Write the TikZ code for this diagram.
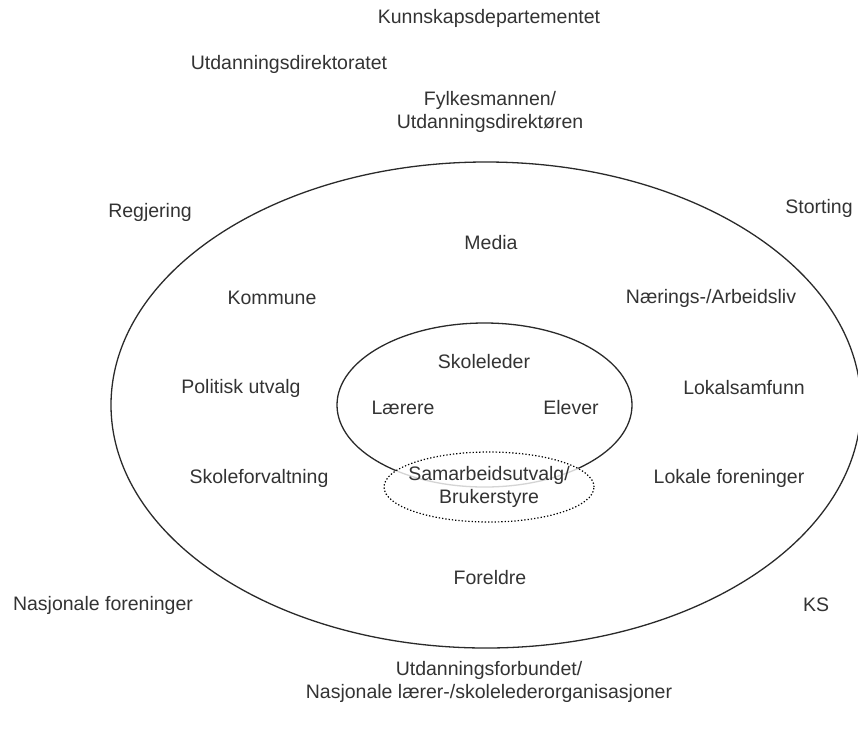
\documentclass[tikz,border=0pt]{standalone}
\usepackage{fontspec}
\setmainfont{Liberation Sans}
\usetikzlibrary{shapes.geometric}
\definecolor{lineColor}{HTML}{2A2A2A}
\definecolor{txtColor}{HTML}{333333}
\tikzset{
	lbl/.style={text=txtColor, inner sep=0, outer sep=0, align=center, font=\fontsize{19.5}{23.5}\selectfont},
	ring/.style={draw=lineColor, line width=1.3pt, ellipse, inner sep=0, outer sep=0}
}

\begin{document}
\begin{tikzpicture}[x=1pt, y=-1pt]
	\useasboundingbox (0,0) rectangle (858,729);
	% circles
	\node[ring, minimum width=750pt, minimum height=486pt] (outer) at (486, 405) {};
	\node[ring, minimum width=295pt, minimum height=164pt] (inner) at (484.5, 405) {};
	\node[ring, draw=black, dotted, line width=1.2pt, fill=white, fill opacity=0.8, text opacity=1, minimum width=210pt, minimum height=70pt] (su) at (489, 487) {};
	% outside
	\node[lbl] (kd) at (489, 18) {Kunnskapsdepartementet};
	\node[lbl] (udir) at (289, 64) {Utdanningsdirektoratet};
	\node[lbl] (fm) at (490, 112) {Fylkesmannen/\\Utdanningsdirektøren};
	\node[lbl] (regj) at (150, 212) {Regjering};
	\node[lbl] (sto) at (819, 208) {Storting};
	\node[lbl] (nf) at (103, 605) {Nasjonale foreninger};
	\node[lbl] (ks) at (816, 605) {KS};
	\node[lbl] (udf) at (489, 682) {Utdanningsforbundet/\\Nasjonale lærer-/skolelederorganisasjoner};
	% outer ring
	\node[lbl] (media) at (491, 243) {Media};
	\node[lbl] (komm) at (272, 298) {Kommune};
	\node[lbl] (naer) at (711, 298) {Nærings-/Arbeidsliv};
	\node[lbl] (pol) at (241, 388) {Politisk utvalg};
	\node[lbl] (lok) at (744, 388) {Lokalsamfunn};
	\node[lbl] (skf) at (259, 478) {Skoleforvaltning};
	\node[lbl] (lf) at (729, 478) {Lokale foreninger};
	\node[lbl] (for) at (490, 578) {Foreldre};
	% inner ring
	\node[lbl] (sl) at (484, 362) {Skoleleder};
	\node[lbl] (laer) at (403, 408) {Lærere};
	\node[lbl] (elev) at (571, 408) {Elever};
	\node[lbl] (sab) at (su) {Samarbeidsutvalg/\\Brukerstyre};
\end{tikzpicture}
\end{document}
